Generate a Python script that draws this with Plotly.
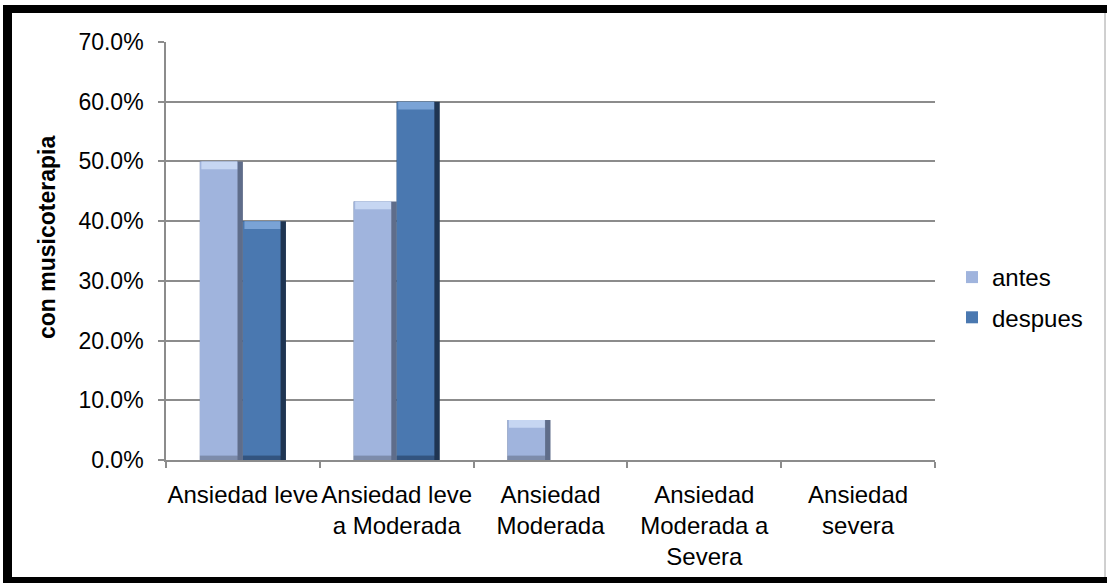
import plotly.graph_objects as go

# Data
categorias = [
    "Ansiedad leve",
    "Ansiedad leve<br>a Moderada",
    "Ansiedad<br>Moderada",
    "Ansiedad<br>Moderada a<br>Severa",
    "Ansiedad<br>severa",
]
antes = [0.50, 0.433, 0.067, 0.0, 0.0]
despues = [0.40, 0.60, 0.0, 0.0, 0.0]
y_ticks = [0.0, 0.1, 0.2, 0.3, 0.4, 0.5, 0.6, 0.7]

W_PX, H_PX = 1107, 583
FONT = "Liberation Sans, Arial, sans-serif"

# plot area in pixels
PX_L, PX_R, PX_T, PX_B = 166, 935, 42, 460

BAR_W = 0.28          # width of a single bar, in category units
BEV_T = 0.013         # top bevel height, data units
BEV_B = 0.007         # bottom bevel height, data units
EDGE_R = 0.035        # right shade width, category units

series = [
    # name, values, offset, shade, bottom, face, highlight
    ("antes", antes, -BAR_W, "#5f6d8a", "#7d8cab", "#a0b4dd", "#c6d6f2"),
    ("despues", despues, 0.0, "#1f3552", "#33547f", "#4a78b0", "#7aa3d6"),
]

fig = go.Figure()
for name, vals, off, shade, bottom, face, hi in series:
    # dark body (gives right shading)
    fig.add_trace(go.Bar(
        x=categorias, y=vals, width=BAR_W, offset=off,
        marker=dict(color=shade, line=dict(width=0)),
        showlegend=False, hoverinfo="skip", legendgroup=name,
    ))
    # bottom bevel
    fig.add_trace(go.Bar(
        x=categorias, y=[min(v, BEV_B) for v in vals],
        width=BAR_W - EDGE_R, offset=off,
        marker=dict(color=bottom, line=dict(width=0)),
        showlegend=False, hoverinfo="skip", legendgroup=name,
    ))
    # main face
    fig.add_trace(go.Bar(
        x=categorias,
        y=[max(v - BEV_B, 0.0) if v > 0 else 0.0 for v in vals],
        base=[BEV_B if v > 0 else 0.0 for v in vals],
        width=BAR_W - EDGE_R, offset=off,
        marker=dict(color=face, line=dict(width=0)),
        name=name, legendgroup=name, showlegend=True, hoverinfo="skip",
    ))
    # top highlight
    fig.add_trace(go.Bar(
        x=categorias,
        y=[min(v, BEV_T) for v in vals],
        base=[v - min(v, BEV_T) for v in vals],
        width=BAR_W - EDGE_R - 0.012, offset=off + 0.01,
        marker=dict(color=hi, line=dict(width=0)),
        showlegend=False, hoverinfo="skip", legendgroup=name,
    ))

def px_x(p):
    return p / W_PX

def px_y(p):
    return 1 - p / H_PX

# frame around the chart
frame = [
    dict(type="rect", x0=px_x(3), x1=1.0, y0=px_y(13), y1=px_y(5)),
    dict(type="rect", x0=px_x(3), x1=px_x(12), y0=0.0, y1=px_y(5)),
    dict(type="rect", x0=px_x(3), x1=1.0, y0=0.0, y1=px_y(577)),
]
shapes = [dict(s, xref="paper", yref="paper", fillcolor="black",
               line=dict(width=0), layer="above") for s in frame]
shapes.append(dict(type="line", xref="paper", yref="paper",
                   x0=px_x(1105), x1=px_x(1105), y0=px_y(577), y1=px_y(13),
                   line=dict(color="#a0a0a0", width=1), layer="above"))

GRID = "#8c8c8c"

fig.update_layout(
    width=W_PX, height=H_PX,
    margin=dict(l=0, r=0, t=0, b=0),
    paper_bgcolor="white", plot_bgcolor="white",
    barmode="overlay",
    font=dict(family=FONT, size=24, color="black"),
    showlegend=True,
    legend=dict(
        x=px_x(952), y=px_y(255), xanchor="left", yanchor="top",
        traceorder="grouped", tracegroupgap=6,
        font=dict(family=FONT, size=24, color="black"),
        bgcolor="rgba(0,0,0,0)", itemclick=False,
    ),
    xaxis=dict(
        domain=[px_x(PX_L), px_x(PX_R)],
        type="category", automargin=False,
        showgrid=False, showline=True, linecolor=GRID, linewidth=1.6,
        ticks="outside", tickson="boundaries", ticklen=6, tickcolor=GRID,
        tickwidth=1.6, ticklabelstandoff=12, tickangle=0,
        tickfont=dict(family=FONT, size=24, color="black"),
        range=[-0.5, 4.5],
    ),
    yaxis=dict(
        domain=[px_y(PX_B), px_y(PX_T)],
        range=[0, 0.7], tickvals=y_ticks, tickformat=".1%",
        automargin=False,
        showgrid=True, gridcolor=GRID, gridwidth=1.6,
        showline=True, linecolor=GRID, linewidth=1.6,
        ticks="outside", ticklen=6, tickcolor=GRID, tickwidth=1.6,
        ticklabelstandoff=10, zeroline=False,
        tickfont=dict(family=FONT, size=23, color="black"),
    ),
    annotations=[dict(
        text="<b>con musicoterapia</b>", textangle=-90,
        xref="paper", yref="paper", x=px_x(47), y=px_y(238),
        xanchor="center", yanchor="middle", showarrow=False,
        font=dict(family=FONT, size=23, color="black"),
    )],
    shapes=shapes,
)

fig.write_html("out.html")
